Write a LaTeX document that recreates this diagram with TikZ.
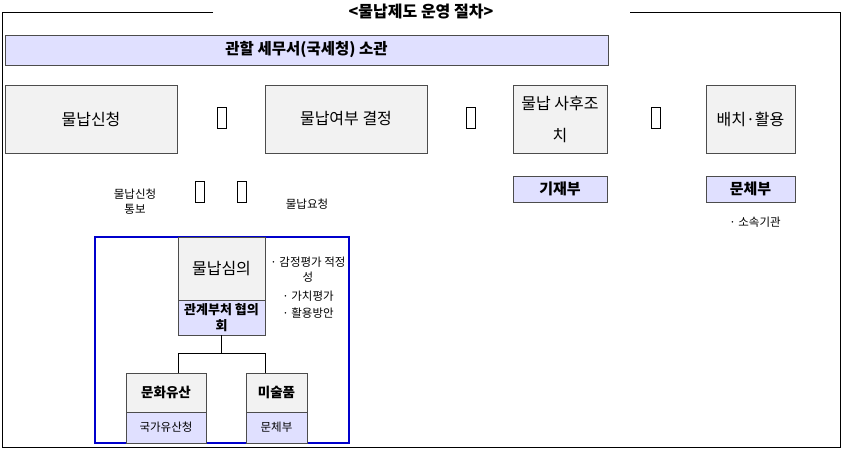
\documentclass[tikz,border=0pt]{standalone}
\usepackage{fontspec}
\setmainfont{Noto Sans CJK KR}
\begin{document}
\begin{tikzpicture}[x=1pt,y=-1pt,
  gbox/.style={draw=black!70,fill=black!5,line width=0.8pt,align=center},
  bbox/.style={draw=black!70,fill=blue!12!white,line width=0.8pt,align=center},
  tofu/.style={draw,line width=0.6pt,minimum width=9pt,minimum height=21pt,inner sep=0pt},
  lbl/.style={font=\fontsize{11.5}{15}\selectfont,align=center}]
\useasboundingbox (0,0) rectangle (843,463);
\fill[white] (0,0) rectangle (843,463);
\draw[line width=0.8pt] (213,12) -- (2,12) -- (2,447) -- (840,447) -- (840,12) -- (630,12);
\node[font=\bfseries\fontsize{16}{18}\selectfont] (title) at (421,12) {<물납제도 운영 절차>};
\node[bbox,minimum width=603pt,minimum height=30pt,font=\bfseries\fontsize{15.5}{18}\selectfont] (ban) at (306.5,50) {관할 세무서(국세청) 소관};
\node[gbox,minimum width=172pt,minimum height=68pt,font=\fontsize{16}{18}\selectfont] (a) at (91,119) {물납신청};
\node[gbox,minimum width=162pt,minimum height=68pt,font=\fontsize{16}{18}\selectfont] (b) at (346,119) {물납여부 결정};
\node[gbox,minimum width=94pt,minimum height=68pt,font=\fontsize{16}{32}\selectfont] (c) at (560,119) {물납 사후조\\치};
\node[gbox,minimum width=89pt,minimum height=68pt,font=\fontsize{16}{18}\selectfont] (d) at (750.5,119) {배치·활용};
\node[tofu] (t1) at (222,118) {};
\node[tofu] (t2) at (471,118) {};
\node[tofu] (t3) at (656,118) {};
\node[bbox,minimum width=94pt,minimum height=26pt,font=\bfseries\fontsize{15}{17}\selectfont] (e) at (560,189) {기재부};
\node[bbox,minimum width=89pt,minimum height=26pt,font=\bfseries\fontsize{15}{17}\selectfont] (f) at (750.5,189) {문체부};
\node[lbl] (g) at (755,222) {· 소속기관};
\node[lbl] (h) at (135,202) {물납신청\\통보};
\node[tofu] (t4) at (200,192) {};
\node[tofu] (t5) at (242,192) {};
\node[lbl] (i) at (307,204) {물납요청};
\draw[blue!80!black,line width=2.5pt] (95,237) rectangle (349,443);
\node[gbox,minimum width=87pt,minimum height=63pt,font=\fontsize{16}{18}\selectfont] (j) at (221.5,268.5) {물납심의};
\node[bbox,minimum width=87pt,minimum height=35pt,font=\bfseries\fontsize{13}{16}\selectfont] (k) at (221.5,317.5) {관계부처 협의\\회};
\node[lbl,anchor=north] (l) at (308,253) {· 감정평가 적정\\성};
\node[lbl] (m) at (308,296) {· 가치평가};
\node[lbl] (n) at (308,313) {· 활용방안};
\node[gbox,minimum width=80pt,minimum height=39pt,font=\bfseries\fontsize{13.5}{16}\selectfont] (o) at (166,392.5) {문화유산};
\node[bbox,minimum width=80pt,minimum height=31pt,font=\fontsize{11.5}{13}\selectfont] (p) at (166,427.5) {국가유산청};
\node[gbox,minimum width=61pt,minimum height=39pt,font=\bfseries\fontsize{13.5}{16}\selectfont] (q) at (276.5,392.5) {미술품};
\node[bbox,minimum width=61pt,minimum height=31pt,font=\fontsize{11.5}{13}\selectfont] (r) at (276.5,427.5) {문체부};
\coordinate (mid) at (221.5,353);
\coordinate (ml) at (178,353);
\coordinate (mr) at (265,353);
\draw[line width=1pt] (k.south) -- (mid);
\draw[line width=1pt] (o.north -| ml) -- (ml) -- (mr) -- (q.north -| mr);
\end{tikzpicture}
\end{document}
